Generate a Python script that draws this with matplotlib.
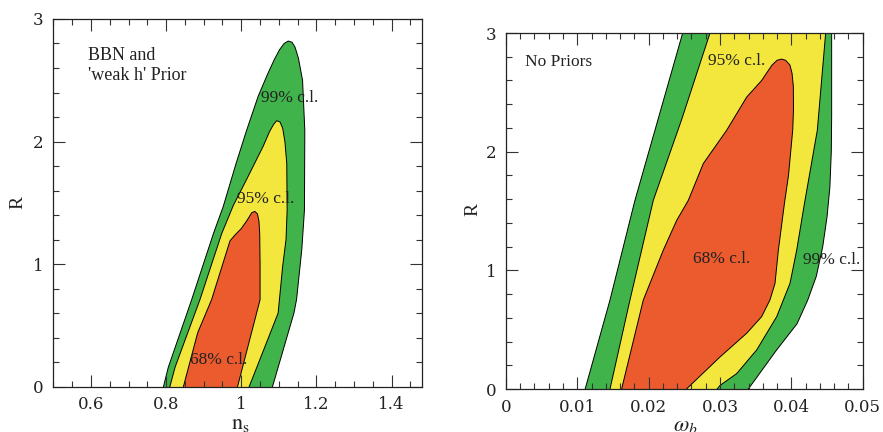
import matplotlib
matplotlib.use('Agg')
import matplotlib.pyplot as plt
from matplotlib.ticker import MultipleLocator, FormatStrFormatter

plt.rcParams['mathtext.fontset'] = 'stix'

# ---------------- Left panel: n_s vs R (BBN and 'weak h' prior) ----------------
ns_99 = [0.785, 0.793, 0.806, 0.868, 0.926, 0.952, 0.986, 1.014, 1.045, 1.070, 1.088, 1.102,
         1.114, 1.125, 1.135, 1.143, 1.152, 1.163, 1.169, 1.168, 1.161, 1.147, 1.140, 1.083, 1.078]
R_ns_99 = [-0.05, 0.00, 0.16, 0.71, 1.25, 1.47, 1.82, 2.09, 2.37, 2.55, 2.67, 2.75,
           2.80, 2.82, 2.81, 2.77, 2.68, 2.50, 2.09, 1.44, 1.12, 0.71, 0.60, 0.00, -0.05]

ns_95 = [0.805, 0.810, 0.824, 0.890, 0.948, 0.979, 1.014, 1.058, 1.075, 1.086, 1.094, 1.103,
         1.110, 1.116, 1.121, 1.122, 1.119, 1.110, 1.098, 1.021, 1.016]
R_ns_95 = [-0.05, 0.00, 0.16, 0.71, 1.25, 1.48, 1.69, 1.96, 2.08, 2.14, 2.17, 2.16,
           2.11, 2.00, 1.82, 1.44, 1.20, 0.98, 0.60, 0.00, -0.05]

ns_68 = [0.842, 0.846, 0.884, 0.921, 0.970, 0.984, 1.000, 1.016, 1.028, 1.036, 1.043, 1.047,
         1.049, 1.050, 1.050, 0.990, 0.985]
R_ns_68 = [-0.05, 0.00, 0.44, 0.71, 1.19, 1.24, 1.29, 1.36, 1.42, 1.43, 1.41, 1.35,
           1.25, 1.00, 0.71, 0.00, -0.05]

# ---------------- Right panel: omega_b vs R (no priors) ----------------
wb_99 = [0.0108, 0.0111, 0.01458, 0.01808, 0.02477, 0.0250, 0.0458, 0.04565, 0.04565,
         0.04560, 0.04540, 0.04500, 0.04440, 0.04350, 0.04230, 0.0408, 0.03795, 0.03397, 0.0335]
R_wb_99 = [-0.05, 0.00, 0.75, 1.59, 3.00, 3.10, 3.10, 3.00, 2.30,
           2.00, 1.70, 1.45, 1.20, 0.95, 0.75, 0.55, 0.33, 0.00, -0.05]

wb_95 = [0.0145, 0.01458, 0.01738, 0.02065, 0.02462, 0.0286, 0.0288, 0.0449, 0.04481,
         0.04364, 0.0418, 0.04075, 0.03981, 0.03795, 0.03515, 0.03234, 0.0300, 0.0296, 0.0294]
R_wb_95 = [-0.05, 0.00, 0.75, 1.59, 2.27, 3.00, 3.10, 3.10, 3.00,
           2.18, 1.55, 1.17, 0.89, 0.61, 0.33, 0.13, 0.03, 0.00, -0.05]

wb_68 = [0.0162, 0.01621, 0.01925, 0.02205, 0.02392, 0.02556, 0.02766, 0.03093, 0.03374,
         0.03584, 0.03650, 0.03730, 0.03800, 0.03864, 0.03920, 0.03980, 0.04010, 0.04028,
         0.04030, 0.04019, 0.03960, 0.03900, 0.03818, 0.03771, 0.03700, 0.03584, 0.03374,
         0.0300, 0.0253, 0.0250]
R_wb_68 = [-0.05, 0.00, 0.75, 1.17, 1.42, 1.59, 1.90, 2.18, 2.46,
           2.60, 2.66, 2.73, 2.77, 2.78, 2.77, 2.73, 2.66, 2.55,
           2.35, 2.18, 1.80, 1.55, 1.17, 0.89, 0.75, 0.61, 0.47,
           0.27, 0.00, -0.05]

C99 = '#40b44b'
C95 = '#f3e63d'
C68 = '#eb5b2e'
TXT = '#222222'
SERIF = ['Liberation Serif', 'DejaVu Serif']

fig = plt.figure(figsize=(8.83, 4.32), dpi=100)
axL = fig.add_axes([0.0604, 0.1049, 0.4172, 0.8512])
axR = fig.add_axes([0.5730, 0.0995, 0.4040, 0.8241])


def style(ax, xmaj, xmin, xfmt, xlim):
    ax.set_xlim(*xlim)
    ax.set_ylim(0, 3)
    ax.xaxis.set_major_locator(MultipleLocator(xmaj))
    ax.xaxis.set_minor_locator(MultipleLocator(xmin))
    ax.xaxis.set_major_formatter(FormatStrFormatter(xfmt))
    ax.yaxis.set_major_locator(MultipleLocator(1))
    ax.yaxis.set_minor_locator(MultipleLocator(0.2))
    ax.yaxis.set_major_formatter(FormatStrFormatter('%g'))
    ax.tick_params(which='both', direction='in', top=True, right=True,
                   color='#333333', width=0.8)
    ax.tick_params(which='major', length=8.4, labelsize=12, labelcolor='#222222', pad=7)
    ax.tick_params(which='minor', length=4.2)
    for lab in ax.get_xticklabels() + ax.get_yticklabels():
        lab.set_family(['DejaVu Serif'])
    for s in ax.spines.values():
        s.set_linewidth(0.9)
        s.set_color('#222222')


style(axL, 0.2, 0.05, '%g', (0.5, 1.48))
style(axR, 0.01, 0.002, '%g', (0.0, 0.05))

for ax, xs, ys in [(axL, (ns_99, ns_95, ns_68), (R_ns_99, R_ns_95, R_ns_68)),
                   (axR, (wb_99, wb_95, wb_68), (R_wb_99, R_wb_95, R_wb_68))]:
    for x, y, c in zip(xs, ys, (C99, C95, C68)):
        ax.fill(x, y, facecolor=c, edgecolor='black', linewidth=0.7, zorder=1)

# labels
axL.set_ylabel('R', family=SERIF, fontsize=14, color=TXT)
axL.yaxis.set_label_coords(-0.074, 0.5)
axL.set_xlabel(r'$\mathrm{n_s}$', fontsize=16, color=TXT)
axL.xaxis.set_label_coords(0.507, -0.073)

axR.set_ylabel('R', family=SERIF, fontsize=14, color=TXT)
axR.yaxis.set_label_coords(-0.068, 0.503)
axR.set_xlabel(r'$\omega_b$', fontsize=16, color=TXT)
axR.xaxis.set_label_coords(0.502, -0.077)

kw = dict(family=SERIF, fontsize=12.5, color=TXT, va='baseline', ha='left', zorder=5)
axL.text(0.5915, 2.77, "BBN and\n'weak h' Prior", family=SERIF, fontsize=13, color=TXT,
         va='top', ha='left', linespacing=1.2)
axL.text(1.052, 2.325, '99% c.l.', **kw)
axL.text(0.989, 1.501, '95% c.l.', **kw)
axL.text(0.8636, 0.183, '68% c.l.', **kw)

axR.text(0.00266, 2.724, 'No Priors', **kw)
axR.text(0.02836, 2.73, '95% c.l.', **kw)
axR.text(0.02626, 1.059, '68% c.l.', **kw)
axR.text(0.04159, 1.051, '99% c.l.', **kw)

fig.savefig('out.png', dpi=100)
